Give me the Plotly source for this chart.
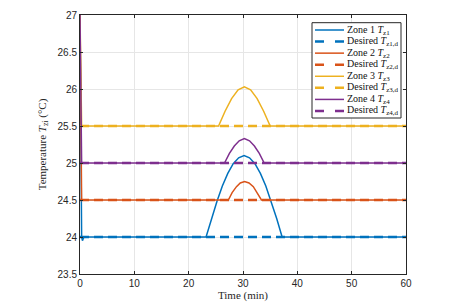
import plotly.graph_objects as go

# Zone temperature trajectories (time in min, temperature in °C)
t_z1 = [0, 0.3, 0.45, 0.7, 23.2, 24.2, 25.2, 26.2, 27.2, 28.2, 29.2, 30.2, 31.2, 32.2, 33.2, 34.2, 35.2, 36.2, 37.2, 60]
T_z1 = [27, 24.0, 23.95, 24.0, 24.0, 24.25, 24.48, 24.69, 24.86, 24.99, 25.07, 25.10, 25.07, 24.99, 24.86, 24.69, 24.48, 24.25, 24.0, 24.0]

t_z2 = [0, 0.3, 27.3, 28.0, 28.8, 29.5, 30.3, 31.1, 31.9, 32.6, 33.4, 60]
T_z2 = [27, 24.5, 24.5, 24.60, 24.68, 24.73, 24.75, 24.73, 24.68, 24.60, 24.5, 24.5]

t_z3 = [0, 0.3, 25.5, 26.7, 27.9, 29.1, 30.25, 31.4, 32.6, 33.8, 35.0, 60]
T_z3 = [27, 25.5, 25.5, 25.70, 25.87, 25.99, 26.03, 25.99, 25.87, 25.70, 25.5, 25.5]

t_z4 = [0, 0.3, 26.6, 27.5, 28.4, 29.3, 30.25, 31.2, 32.1, 33.0, 33.9, 60]
T_z4 = [27, 25.0, 25.0, 25.13, 25.23, 25.30, 25.33, 25.30, 25.23, 25.13, 25.0, 25.0]

t_des = [0, 60]
T_z1_d = [24.0, 24.0]
T_z2_d = [24.5, 24.5]
T_z3_d = [25.5, 25.5]
T_z4_d = [25.0, 25.0]

x_ticks = [0, 10, 20, 30, 40, 50, 60]
y_ticks = [23.5, 24, 24.5, 25, 25.5, 26, 26.5, 27]

colors = ["#0072BD", "#D95319", "#EDB120", "#7E2F8E"]

zones = [
    (t_z1, T_z1, T_z1_d, "1"),
    (t_z2, T_z2, T_z2_d, "2"),
    (t_z3, T_z3, T_z3_d, "3"),
    (t_z4, T_z4, T_z4_d, "4"),
]

SOLID_W = 1.5
DASH_W = 2.5
DASH_PLOT = "9px,5px"
DASH_LEG = "9px,11px"

fig = go.Figure()
legend_items = []
for (tt, TT, Td, k), c in zip(zones, colors):
    n1 = f"Zone {k} <i>T</i><sub>z{k}</sub>"
    n2 = f"Desired <i>T</i><sub>z{k},d</sub>"
    fig.add_trace(go.Scatter(x=tt, y=TT, mode="lines",
                             line=dict(color=c, width=SOLID_W), name=n1))
    fig.add_trace(go.Scatter(x=t_des, y=Td, mode="lines",
                             line=dict(color=c, width=DASH_W, dash=DASH_PLOT), name=n2))
    legend_items.append((n1, c, SOLID_W, "solid"))
    legend_items.append((n2, c, DASH_W, DASH_LEG))

# --- geometry: page body has an 8px default margin ---
OFF = 8
W, H = 470 - OFF, 308 - OFF
# target plot area in screen pixels
SX0, SX1, SY0, SY1 = 80, 406, 15, 274
ML, MT = SX0 - OFF, SY0 - OFF
MR, MB = W - (SX1 - OFF), H - (SY1 - OFF)
PW, PH = SX1 - SX0, SY1 - SY0

def px_x(p):
    return (p - SX0) / PW

def px_y(p):
    return (SY1 - p) / PH

# --- custom compact legend (MATLAB-like) ---
box_l, box_r, box_t, box_b = 312, 401, 22.7, 118
fig.add_shape(type="rect", xref="paper", yref="paper",
              x0=px_x(box_l), x1=px_x(box_r), y0=px_y(box_b), y1=px_y(box_t),
              fillcolor="white", line=dict(color="#262626", width=1), layer="above")
item_y0, item_dy = 30.0, 11.57
for i, (name, c, w, d) in enumerate(legend_items):
    yy = px_y(item_y0 + i * item_dy)
    fig.add_shape(type="line", xref="paper", yref="paper",
                  x0=px_x(315), x1=px_x(344), y0=yy, y1=yy,
                  line=dict(color=c, width=w, dash=d), layer="above")
    fig.add_annotation(xref="paper", yref="paper", x=px_x(345.5), y=yy,
                       xanchor="left", yanchor="middle", text=name, showarrow=False,
                       height=11, valign="middle", borderpad=0,
                       font=dict(family="Liberation Serif, Times New Roman", size=10, color="#111111"))

axis_common = dict(
    showline=True, linecolor="#262626", linewidth=1,
    mirror="ticks", ticks="inside", ticklen=3, tickcolor="#262626",
    showgrid=True, gridcolor="#E6E6E6", gridwidth=1,
    zeroline=False, automargin=False,
    tickfont=dict(family="Liberation Sans, Arial", size=10, color="#262626"),
    title_font=dict(family="Liberation Serif, Times New Roman", size=11, color="#262626"),
)

fig.update_xaxes(range=[0, 60], tickmode="array", tickvals=x_ticks,
                 ticktext=[str(v) for v in x_ticks],
                 title_text="Time (min)", title_standoff=2, **axis_common)
fig.update_yaxes(range=[23.5, 27], tickmode="array", tickvals=y_ticks,
                 ticktext=[f"{v:g}" for v in y_ticks],
                 title_text="Temperature <i>T</i><sub>zi</sub> (°C)",
                 title_standoff=8, **axis_common)

fig.update_layout(
    width=W, height=H,
    margin=dict(l=ML, r=MR, t=MT, b=MB),
    paper_bgcolor="white", plot_bgcolor="white",
    showlegend=False,
)

fig.write_html("out.html")
